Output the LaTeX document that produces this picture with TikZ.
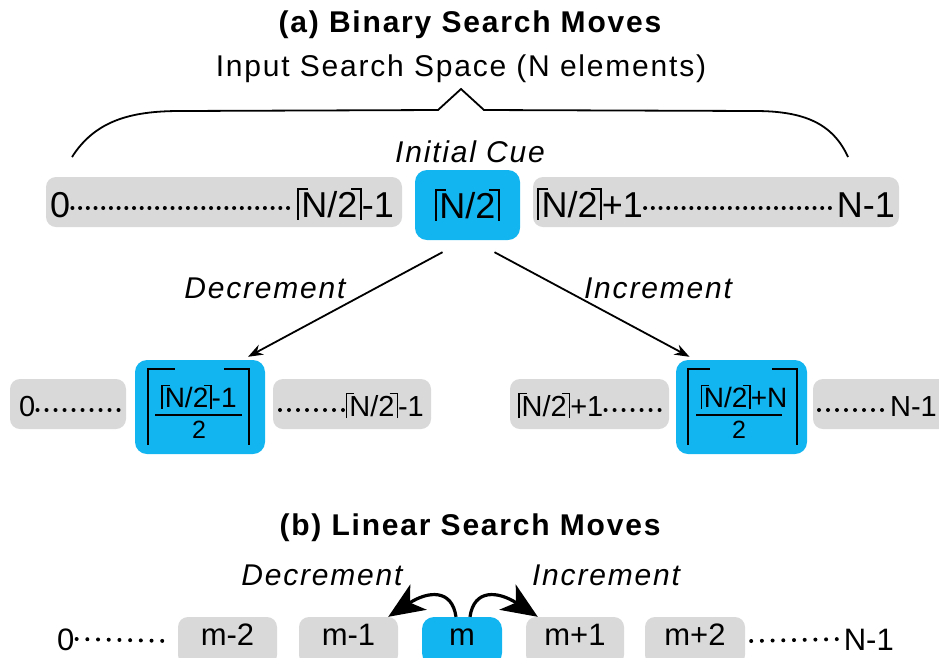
\documentclass[tikz,border=0pt]{standalone}
\usepackage{fontspec}
\setmainfont{Liberation Sans}
\newfontfamily\lblfont{Liberation Sans}[LetterSpace=6]
\usetikzlibrary{arrows.meta}
\definecolor{cueblue}{HTML}{12B5F0}
\definecolor{cellgray}{HTML}{D9D9D9}
% ceiling brackets drawn with rules
\newcommand\ceilL{\makebox[0.12em][l]{\rule[-0.07em]{0.05em}{0.87em}\rule[0.75em]{0.24em}{0.05em}}}
\newcommand\ceilR{\makebox[0.12em][r]{\rule[0.75em]{0.24em}{0.05em}\rule[-0.07em]{0.05em}{0.87em}}}

\begin{document}
\begin{tikzpicture}[x=1pt, y=1pt,
  heading/.style={font=\lblfont\fontsize{30}{36}\selectfont\bfseries, anchor=base},
  lbl/.style={font=\lblfont\fontsize{30}{36}\selectfont, anchor=base},
  movelbl/.style={font=\lblfont\fontsize{30}{36}\selectfont\itshape, anchor=base},
  cell/.style={fill=cellgray, rounded corners=10pt, inner sep=0pt},
  cuebox/.style={fill=cueblue, rounded corners=12pt, inner sep=0pt},
  num/.style={font=\fontsize{36}{40}\selectfont, inner sep=2pt},
  numsm/.style={font=\fontsize{29}{34}\selectfont, inner sep=2pt},
  numlin/.style={font=\fontsize{31}{36}\selectfont, inner sep=2pt},
  linecell/.style={minimum height=48pt, text height=22pt, text depth=14pt},
  dotline/.style={line width=4pt, line cap=round, dash pattern=on 0pt off #1},
  dotline/.default=8pt,
  bigceil/.style={line width=1.8pt},
  binmove/.style={line width=1.8pt, -{Stealth[length=15pt, width=11pt]}},
  linmove/.style={line width=3.2pt, -{Stealth[length=36pt, width=30pt, inset=10pt]}}
]
\useasboundingbox (0,0) rectangle (939,-657);
\clip (0,0) rectangle (939,-657);

% (a) binary search
\node[heading] (titleA) at (470,-32) {(a) Binary Search Moves};
\node[lbl] (space) at (461,-76) {Input Search Space (N elements)};
\draw[line width=1.8pt] (72,-157) .. controls (95,-121) and (130,-111) .. (180,-111)
  -- (438,-110) -- (461,-89) -- (484,-110) -- (755,-111)
  .. controls (805,-111) and (833,-124) .. (848,-157);
\node[movelbl] (initLbl) at (470,-162) {Initial Cue};

\node[cell, minimum width=356pt, minimum height=50pt] (loCell) at (224,-202) {};
\node[num, anchor=base west] (loZero) at (48,-217) {0};
\node[num, anchor=base east] (loTop) at (396,-217) {\ceilL N/2\ceilR-1};
\draw[dotline=7.7pt] ([yshift=9pt]loZero.base east) -- ([yshift=9pt]loTop.base west);
\node[cuebox, num, minimum width=105pt, minimum height=70pt] (startCue) at (467.5,-205) {\ceilL N/2\ceilR};
\node[cell, minimum width=366pt, minimum height=50pt] (hiCell) at (716,-202) {};
\node[num, anchor=base west] (hiBot) at (535,-217) {\ceilL N/2\ceilR+1};
\node[num, anchor=base east] (hiEnd) at (897,-217) {N-1};
\draw[dotline=7.7pt] ([yshift=9pt]hiBot.base east) -- ([yshift=9pt]hiEnd.base west);

\node[cell, minimum width=116pt, minimum height=50pt] (decLoCell) at (68,-404) {};
\node[numsm, anchor=base west] (decLoZero) at (17,-416) {0};
\coordinate (decLoEnd) at (120,-410);
\draw[dotline=9pt] ([yshift=6pt]decLoZero.base east) -- (decLoEnd);
\node[cuebox, minimum width=130pt, minimum height=94pt] (decCue) at (200,-407) {};
\node[font=\fontsize{28}{32}\selectfont, anchor=base, inner sep=2pt] (decNum) at (199,-407) {\ceilL N/2\ceilR-1};
\node[font=\fontsize{25}{28}\selectfont, anchor=base, inner sep=2pt] (decDen) at (199,-438) {2};
\draw[line width=1.5pt] ([shift={(-4,-8)}]decNum.base west) -- ([shift={(3,-8)}]decNum.base east);
\draw[bigceil] ([shift={(40,-9)}]decCue.north west) -| ([shift={(13,9)}]decCue.south west);
\draw[bigceil] ([shift={(-41,-9)}]decCue.north east) -| ([shift={(-16,9)}]decCue.south east);
\node[cell, minimum width=158pt, minimum height=50pt] (decHiCell) at (352,-404) {};
\coordinate (decHiStart) at (280,-410);
\node[numsm, anchor=base east] (decHiTop) at (426,-416) {\ceilL N/2\ceilR-1};
\draw[dotline=9pt] (decHiStart) -- ([yshift=6pt]decHiTop.base west);

\node[cell, minimum width=159pt, minimum height=50pt] (incLoCell) at (589.5,-404) {};
\node[numsm, anchor=base west] (incLoBot) at (516,-416) {\ceilL N/2\ceilR+1};
\coordinate (incLoEnd) at (665,-410);
\draw[dotline=9pt] ([yshift=6pt]incLoBot.base east) -- (incLoEnd);
\node[cuebox, minimum width=131pt, minimum height=94pt] (incCue) at (741.5,-407) {};
\node[font=\fontsize{28}{32}\selectfont, anchor=base, inner sep=2pt] (incNum) at (744,-407) {\ceilL N/2\ceilR+N};
\node[font=\fontsize{25}{28}\selectfont, anchor=base, inner sep=2pt] (incDen) at (739,-438) {2};
\draw[line width=1.5pt] ([shift={(-2,-8)}]incNum.base west) -- ([shift={(-8,-8)}]incNum.base east);
\draw[bigceil] ([shift={(34,-9)}]incCue.north west) -| ([shift={(12,9)}]incCue.south west);
\draw[bigceil] ([shift={(-35,-9)}]incCue.north east) -| ([shift={(-10,9)}]incCue.south east);
\node[cell, minimum width=160pt, minimum height=50pt] (incHiCell) at (893,-404) {};
\coordinate (incHiStart) at (819,-410);
\node[numsm, anchor=base east] (incHiEnd) at (939,-416) {N-1};
\draw[dotline=9pt] (incHiStart) -- ([yshift=6pt]incHiEnd.base west);

\draw[binmove] ([shift={(-25,-12)}]startCue.south) -- ([shift={(48,3)}]decCue.north);
\draw[binmove] ([shift={(27,-12)}]startCue.south) -- ([shift={(-52,3)}]incCue.north);
\node[movelbl] (decLbl) at (265,-298) {Decrement};
\node[movelbl] (incLbl) at (658,-298) {Increment};

% (b) linear search
\node[heading] (titleB) at (470,-535) {(b) Linear Search Moves};
\node[numlin, anchor=base west] (linZero) at (55,-650) {0};
\node[cell, linecell, numlin, minimum width=99pt] (mm2) at (227.5,-641) {m-2};
\node[cell, linecell, numlin, minimum width=99pt] (mm1) at (348.5,-641) {m-1};
\node[cuebox, linecell, numlin, minimum width=80pt] (mid) at (462,-641) {m};
\node[cell, linecell, numlin, minimum width=98pt] (mp1) at (575,-641) {m+1};
\node[cell, linecell, numlin, minimum width=100pt] (mp2) at (695,-641) {m+2};
\node[numlin, anchor=base east] (linEnd) at (896,-650) {N-1};
\draw[dotline=10.7pt] ([yshift=11pt]linZero.base east) -- ([xshift=-10pt]mm2.west);
\draw[dotline=10.7pt] ([xshift=6pt]mp2.east) -- ([yshift=11pt]linEnd.base west);
\draw[linmove] ([xshift=-6pt]mid.north) .. controls +(-4,28) and +(40,26) .. ([xshift=-10pt]mm1.north east);
\draw[linmove] ([xshift=8pt]mid.north) .. controls +(4,28) and +(-40,26) .. ([xshift=12pt]mp1.north west);
\node[movelbl] (linDecLbl) at (322,-585) {Decrement};
\node[movelbl] (linIncLbl) at (606,-585) {Increment};
\end{tikzpicture}
\end{document}
